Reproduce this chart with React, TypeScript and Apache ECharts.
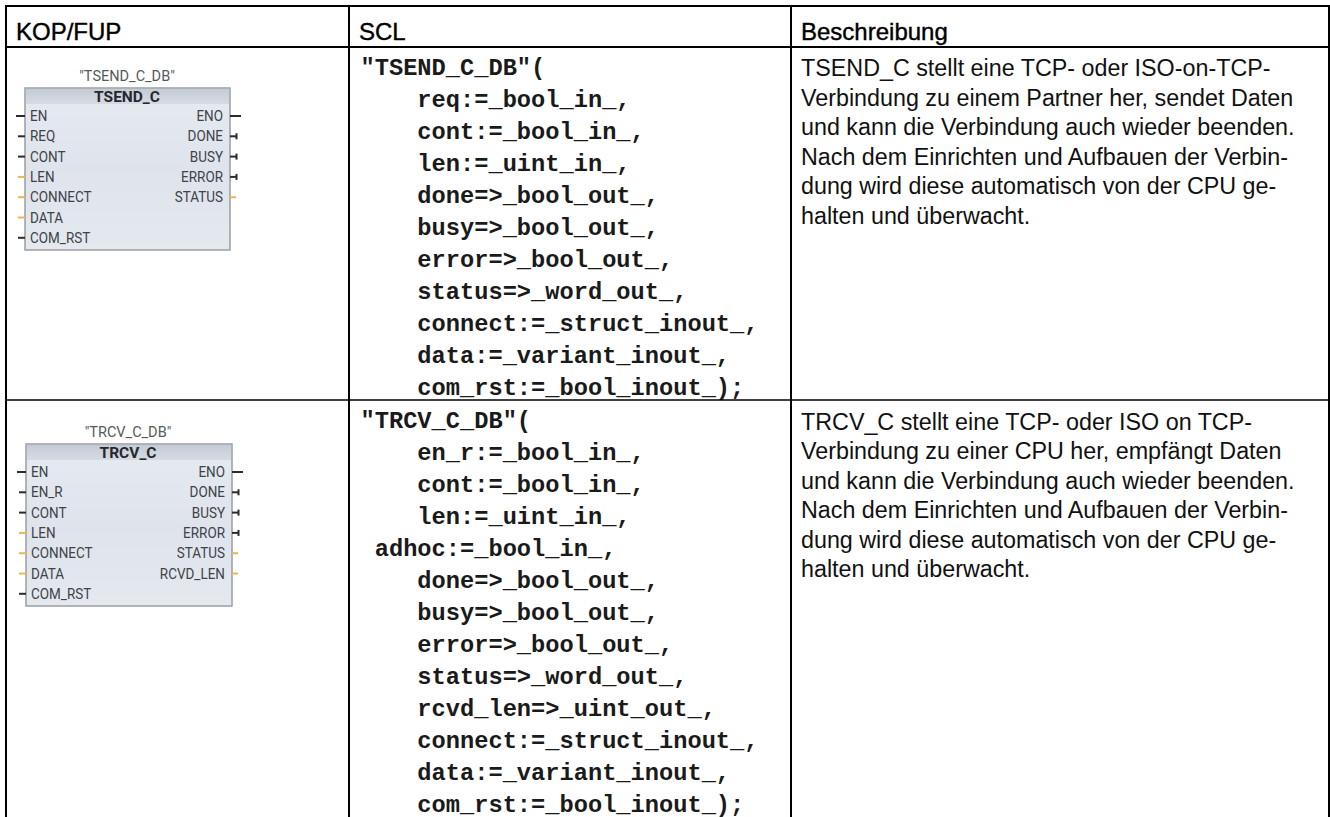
import React, { useEffect, useRef } from "react";
import * as echarts from "echarts";

const headers = ["KOP/FUP", "SCL", "Beschreibung"];

const sclRow1 = [
  '"TSEND_C_DB"(',
  "    req:=_bool_in_,",
  "    cont:=_bool_in_,",
  "    len:=_uint_in_,",
  "    done=>_bool_out_,",
  "    busy=>_bool_out_,",
  "    error=>_bool_out_,",
  "    status=>_word_out_,",
  "    connect:=_struct_inout_,",
  "    data:=_variant_inout_,",
  "    com_rst:=_bool_inout_);",
];
const sclRow2 = [
  '"TRCV_C_DB"(',
  "    en_r:=_bool_in_,",
  "    cont:=_bool_in_,",
  "    len:=_uint_in_,",
  " adhoc:=_bool_in_,",
  "    done=>_bool_out_,",
  "    busy=>_bool_out_,",
  "    error=>_bool_out_,",
  "    status=>_word_out_,",
  "    rcvd_len=>_uint_out_,",
  "    connect:=_struct_inout_,",
  "    data:=_variant_inout_,",
  "    com_rst:=_bool_inout_);",
];
const descRow1 = [
  "TSEND_C stellt eine TCP- oder ISO-on-TCP-",
  "Verbindung zu einem Partner her, sendet Daten",
  "und kann die Verbindung auch wieder beenden.",
  "Nach dem Einrichten und Aufbauen der Verbin-",
  "dung wird diese automatisch von der CPU ge-",
  "halten und überwacht.",
];
const descRow2 = [
  "TRCV_C stellt eine TCP- oder ISO on TCP-",
  "Verbindung zu einer CPU her, empfängt Daten",
  "und kann die Verbindung auch wieder beenden.",
  "Nach dem Einrichten und Aufbauen der Verbin-",
  "dung wird diese automatisch von der CPU ge-",
  "halten und überwacht.",
];

// pin name + kind: b = boolean (black), o = other (orange)
const block1Name = "TSEND_C";
const block1Db = '"TSEND_C_DB"';
const block1Left = ["EN", "REQ", "CONT", "LEN", "CONNECT", "DATA", "COM_RST"];
const block1LeftKind = ["b", "b", "b", "o", "o", "o", "b"];
const block1Right = ["ENO", "DONE", "BUSY", "ERROR", "STATUS"];
const block1RightKind = ["e", "a", "a", "a", "o"];

const block2Name = "TRCV_C";
const block2Db = '"TRCV_C_DB"';
const block2Left = ["EN", "EN_R", "CONT", "LEN", "CONNECT", "DATA", "COM_RST"];
const block2LeftKind = ["b", "b", "b", "o", "o", "o", "b"];
const block2Right = ["ENO", "DONE", "BUSY", "ERROR", "STATUS", "RCVD_LEN"];
const block2RightKind = ["e", "a", "a", "a", "o", "o"];

const SANS = '"Liberation Sans", Arial, sans-serif';
const MONO = '"Liberation Mono", "Courier New", monospace';
const PIN = '"Roboto", sans-serif';
const ORANGE = "#f0b455";
const DARK = "#2b2b2b";
const PIN_TEXT = "#3e4348";

function line(x1: number, y1: number, x2: number, y2: number, w: number, color = "#000") {
  return { type: "line", shape: { x1, y1, x2, y2 }, style: { stroke: color, lineWidth: w }, silent: true };
}
function text(x: number, y: number, t: string, font: string, fill: string, extra: any = {}, sx = 1) {
  return {
    type: "text",
    x,
    y,
    scaleX: sx,
    silent: true,
    style: { text: t, font, fill, textVerticalAlign: "middle", verticalAlign: "middle", ...extra },
  };
}

function block(
  dx: number,
  dy: number,
  w: number,
  name: string,
  db: string,
  left: string[],
  leftKind: string[],
  right: string[],
  rightKind: string[],
) {
  const out: any[] = [];
  const x0 = dx;
  const y0 = dy;
  const h = 162;
  out.push(text(x0 + 102, y0 - 12, db, `14.5px ${PIN}`, "#555a5e", { align: "center" }));
  out.push({
    type: "rect",
    silent: true,
    shape: { x: x0, y: y0, width: w, height: h },
    style: {
      fill: {
        type: "linear", x: 0, y: 0, x2: 0, y2: 1,
        colorStops: [
          { offset: 0, color: "#e6eaf1" },
          { offset: 0.5, color: "#dfe4ec" },
          { offset: 1, color: "#e4e8ef" },
        ],
      },
      stroke: "#9a9fa3",
      lineWidth: 1.5,
    },
  });
  out.push({
    type: "rect",
    silent: true,
    shape: { x: x0 + 1, y: y0 + 1, width: w - 2, height: 15 },
    style: {
      fill: {
        type: "linear", x: 0, y: 0, x2: 0, y2: 1,
        colorStops: [
          { offset: 0, color: "#c5cbd5" },
          { offset: 1, color: "#d6dbe3" },
        ],
      },
    },
  });
  out.push(text(x0 + 102, y0 + 9, name, `bold 15.5px ${PIN}`, "#25282c", { align: "center" }));
  const py = (i: number) => y0 + 28 + i * 20.3;
  left.forEach((n, i) => {
    const y = py(i);
    const k = leftKind[i];
    out.push(line(i === 0 ? x0 - 9 : x0 - 7, y, x0, y, 2, k === "o" ? ORANGE : DARK));
    out.push(text(x0 + 5, y, n, `14.5px ${PIN}`, PIN_TEXT, {}, 0.93));
  });
  right.forEach((n, i) => {
    const y = py(i);
    const k = rightKind[i];
    out.push(text(x0 + w - 7, y, n, `14.5px ${PIN}`, PIN_TEXT, { align: "right" }, 0.93));
    if (k === "e") out.push(line(x0 + w, y, x0 + w + 11, y, 2, DARK));
    if (k === "o") out.push(line(x0 + w, y, x0 + w + 6, y, 2, ORANGE));
    if (k === "a") {
      out.push(line(x0 + w, y, x0 + w + 7, y, 2, DARK));
      out.push(line(x0 + w + 6.5, y - 3, x0 + w + 6.5, y + 3, 2, DARK));
    }
  });
  return out;
}

export default function App() {
  const ref = useRef<HTMLDivElement>(null);
  useEffect(() => {
    document.body.style.margin = "0";
    const chart = echarts.init(ref.current!, undefined, { renderer: "svg" });
    const els: any[] = [];
    els.push({ type: "rect", silent: true, shape: { x: 0, y: 0, width: 1330, height: 817 }, style: { fill: "#fff" } });

    const headerX = [16, 359, 801];
    headers.forEach((h, i) =>
      els.push(text(headerX[i], 31, h, `24px ${SANS}`, "#000", { stroke: "#000", lineWidth: 0.4 })),
    );

    els.push(...block(25, 88, 205, block1Name, block1Db, block1Left, block1LeftKind, block1Right, block1RightKind));
    els.push(...block(26, 444, 206, block2Name, block2Db, block2Left, block2LeftKind, block2Right, block2RightKind));

    sclRow1.forEach((t, i) => els.push(text(360.5, 68 + i * 32, t, `bold 23.7px ${MONO}`, "#1a1a1a")));
    sclRow2.forEach((t, i) => els.push(text(360.5, 421 + i * 32, t, `bold 23.7px ${MONO}`, "#1a1a1a")));
    descRow1.forEach((t, i) => els.push(text(801, 68 + i * 29.5, t, `23.3px ${SANS}`, "#111")));
    descRow2.forEach((t, i) => els.push(text(801, 422 + i * 29.4, t, `23.3px ${SANS}`, "#111")));

    els.push(line(5, 6, 1330, 6, 2));
    els.push(line(5, 47, 1330, 47, 2));
    els.push(line(5, 400, 1330, 400, 1.5));
    els.push(line(6, 5, 6, 817, 2));
    els.push(line(349, 6, 349, 817, 2));
    els.push(line(791, 6, 791, 817, 2));
    els.push(line(1329, 5, 1329, 817, 2));

    chart.setOption({ animation: false, graphic: { elements: els } });
    return () => chart.dispose();
  }, []);
  return <div ref={ref} style={{ width: 1330, height: 817 }} />;
}
